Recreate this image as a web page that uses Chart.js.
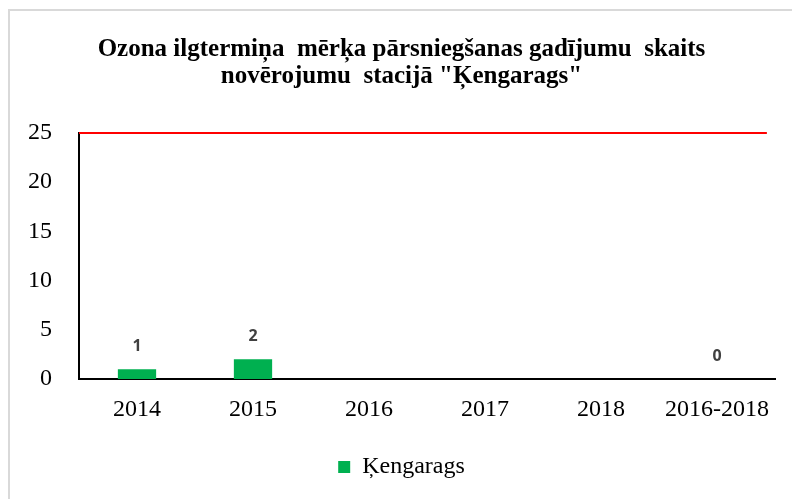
<!DOCTYPE html>
<html>
<head>
<meta charset="utf-8">
<script src="https://cdn.jsdelivr.net/npm/chart.js@4/dist/chart.umd.min.js"></script>
<style>
html,body{margin:0;padding:0;background:#fff;}
#wrap{width:792px;height:499px;position:relative;}
</style>
</head>
<body>
<div id="wrap"><canvas id="c" width="792" height="499"></canvas></div>
<script>
const categories = ["2014", "2015", "2016", "2017", "2018", "2016-2018"];
const seriesName = "Ķengarags";
const seriesValues = [1, 2, null, null, null, 0];
const limitValue = [25];
const yTicks = [0, 5, 10, 15, 20, 25];
const titleLines = ["Ozona ilgtermiņa  mērķa pārsniegšanas gadījumu  skaits", "novērojumu  stacijā \"Ķengarags\""];

const serif = "'Liberation Serif', 'Times New Roman', serif";

const framePlugin = {
  id: 'frame',
  beforeDraw(chart) {
    const ctx = chart.ctx;
    ctx.save();
    ctx.fillStyle = '#fff';
    ctx.fillRect(0, 0, chart.width, chart.height);
    ctx.strokeStyle = '#d9d9d9';
    ctx.lineWidth = 2;
    ctx.beginPath();
    ctx.moveTo(9, chart.height);
    ctx.lineTo(9, 10);
    ctx.lineTo(chart.width, 10);
    ctx.stroke();
    ctx.restore();
  }
};

const limitPlugin = {
  id: 'limitLine',
  afterDatasetsDraw(chart) {
    const ctx = chart.ctx;
    const y = chart.scales.y.getPixelForValue(limitValue[0]);
    const area = chart.chartArea;
    const cat = (area.right - area.left) / categories.length;
    ctx.save();
    ctx.strokeStyle = '#ff0000';
    ctx.lineWidth = 2;
    ctx.beginPath();
    ctx.moveTo(area.left, y);
    ctx.lineTo(area.right - cat * 0.07, y);
    ctx.stroke();
    ctx.restore();
  }
};

const labelPlugin = {
  id: 'valueLabels',
  afterDatasetsDraw(chart) {
    const ctx = chart.ctx;
    const meta = chart.getDatasetMeta(0);
    ctx.save();
    ctx.font = "bold 16px 'Open Sans', 'DejaVu Sans', sans-serif";
    ctx.fillStyle = '#404040';
    ctx.textAlign = 'center';
    ctx.textBaseline = 'middle';
    meta.data.forEach((bar, i) => {
      const v = seriesValues[i];
      if (v === null || v === undefined) return;
      const y = chart.scales.y.getPixelForValue(v);
      ctx.fillText(String(v), bar.x, y - 23);
    });
    ctx.restore();
  }
};

new Chart(document.getElementById('c'), {
  type: 'bar',
  data: {
    labels: categories,
    datasets: [{
      label: seriesName,
      data: seriesValues,
      backgroundColor: '#00b050',
      borderWidth: 0,
      categoryPercentage: 1.0,
      barPercentage: 0.33
    }]
  },
  options: {
    responsive: false,
    animation: false,
    devicePixelRatio: 1,
    layout: { padding: { left: 28, right: 17, top: 26, bottom: 10 } },
    plugins: {
      title: {
        display: true,
        text: titleLines,
        font: { family: serif, size: 25, weight: 'bold', lineHeight: 1.08 },
        color: '#000',
        padding: { top: 10, bottom: 43 }
      },
      legend: {
        position: 'bottom',
        labels: {
          font: { family: serif, size: 24 },
          color: '#000',
          boxWidth: 12,
          boxHeight: 12,
          padding: 22
        }
      },
      tooltip: { enabled: false }
    },
    scales: {
      x: {
        grid: { display: false, drawTicks: false },
        border: { color: '#000', width: 2 },
        ticks: { font: { family: serif, size: 24 }, color: '#000', padding: 16 },
        afterFit(scale) { scale.height = 54; }
      },
      y: {
        min: 0, max: 25,
        afterBuildTicks(scale) { scale.ticks = yTicks.map(v => ({ value: v })); },
        grid: { display: false, drawTicks: false },
        border: { color: '#000', width: 2 },
        ticks: { font: { family: serif, size: 24 }, color: '#000', padding: 27 },
        afterFit(scale) { scale.width = 51; }
      }
    }
  },
  plugins: [framePlugin, limitPlugin, labelPlugin]
});
</script>
</body>
</html>
